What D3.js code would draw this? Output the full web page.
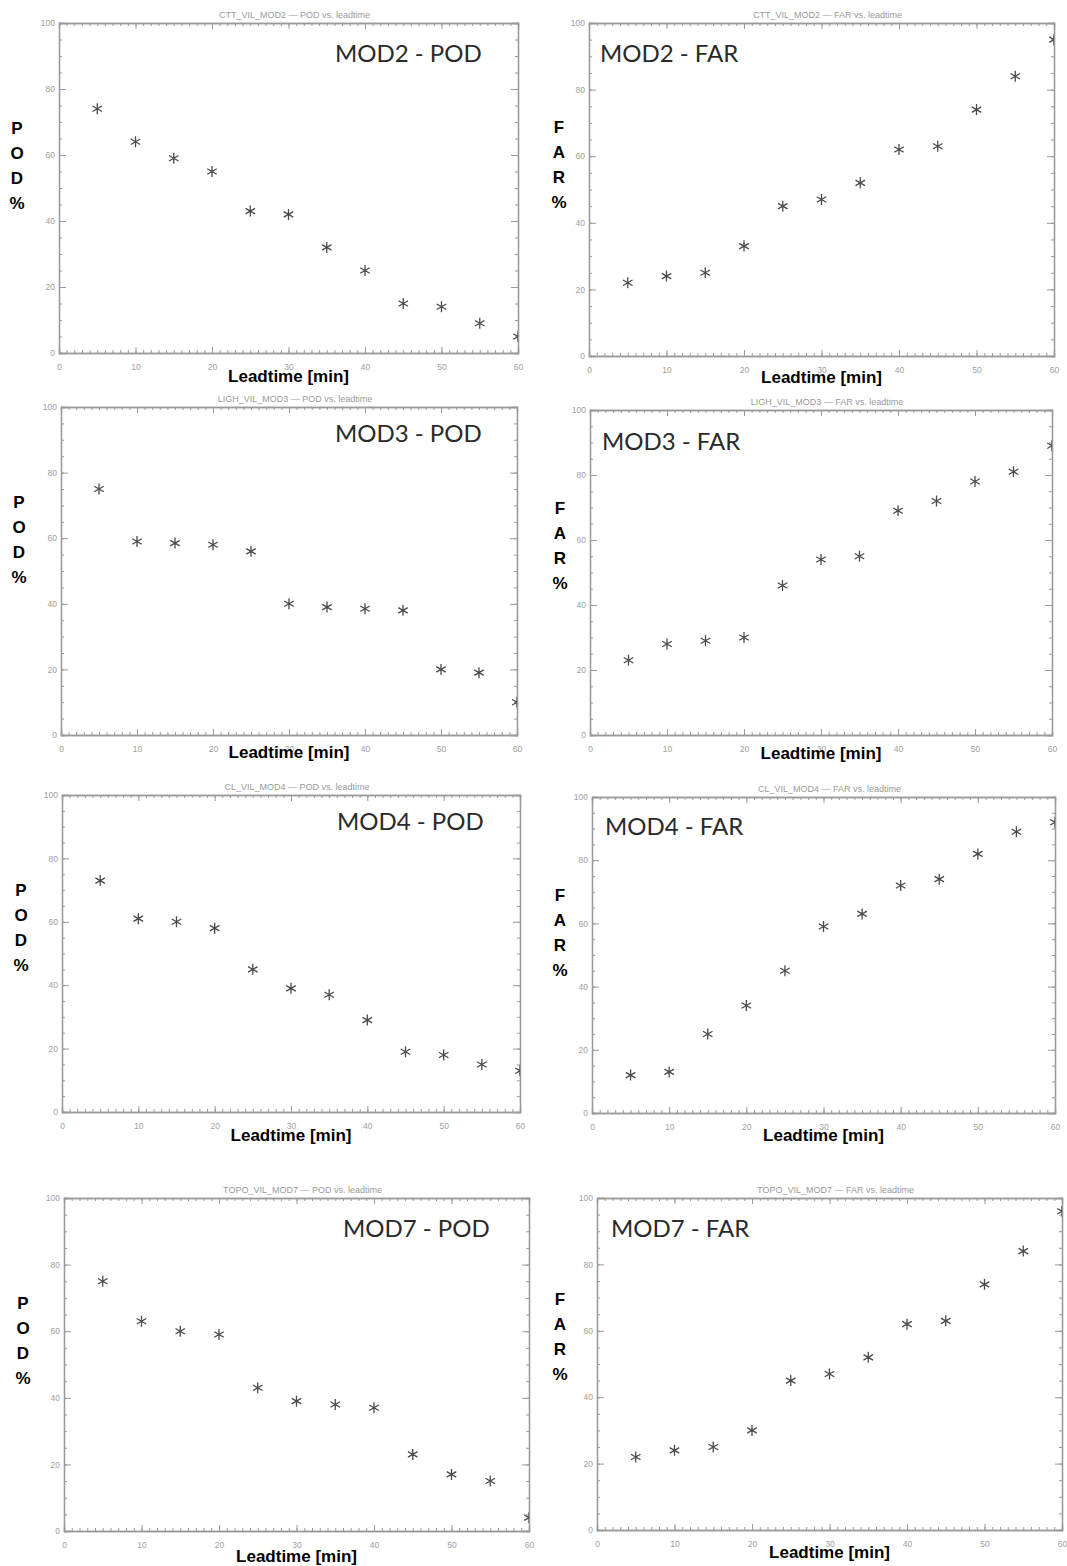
<!DOCTYPE html>
<html>
<head>
<meta charset="utf-8">
<script src="https://cdn.jsdelivr.net/npm/d3@7"></script>
<style>
  html, body { margin: 0; padding: 0; background: #fff; }
  svg { display: block; }
</style>
</head>
<body>
<svg id="chart" width="1067" height="1566"></svg>
<script>
// ---------- DATA ----------
const leadtimes = [5, 10, 15, 20, 25, 30, 35, 40, 45, 50, 55, 60];
const xTicks = [0, 10, 20, 30, 40, 50, 60];
const yTicks = [0, 20, 40, 60, 80, 100];

const pod2 = [74, 64, 59, 55, 43, 42, 32, 25, 15, 14, 9, 5];
const far2 = [22, 24, 25, 33, 45, 47, 52, 62, 63, 74, 84, 95];
const pod3 = [75, 59, 58.5, 58, 56, 40, 39, 38.5, 38, 20, 19, 10];
const far3 = [23, 28, 29, 30, 46, 54, 55, 69, 72, 78, 81, 89];
const pod4 = [73, 61, 60, 58, 45, 39, 37, 29, 19, 18, 15, 13];
const far4 = [12, 13, 25, 34, 45, 59, 63, 72, 74, 82, 89, 92];
const pod7 = [75, 63, 60, 59, 43, 39, 38, 37, 23, 17, 15, 4];
const far7 = [22, 24, 25, 30, 45, 47, 52, 62, 63, 74, 84, 96];

const plotTitles = [
  "CTT_VIL_MOD2 \u2014 POD vs. leadtime", "CTT_VIL_MOD2 \u2014 FAR vs. leadtime",
  "LIGH_VIL_MOD3 \u2014 POD vs. leadtime", "LIGH_VIL_MOD3 \u2014 FAR vs. leadtime",
  "CL_VIL_MOD4 \u2014 POD vs. leadtime", "CL_VIL_MOD4 \u2014 FAR vs. leadtime",
  "TOPO_VIL_MOD7 \u2014 POD vs. leadtime", "TOPO_VIL_MOD7 \u2014 FAR vs. leadtime"
];
const panelLabels = ["MOD2 - POD", "MOD2 - FAR", "MOD3 - POD", "MOD3 - FAR",
                     "MOD4 - POD", "MOD4 - FAR", "MOD7 - POD", "MOD7 - FAR"];
const yLetters = [["P", "O", "D", "%"], ["F", "A", "R", "%"]];
const xAxisTitle = "Leadtime [min]";
const series = [pod2, far2, pod3, far3, pod4, far4, pod7, far7];

// ---------- LAYOUT ----------
const frames = [
  {x0: 59,  x1: 518,  y0: 23,   y1: 353,  lab: {x: 335, y: 62},   yl: {x: 17, y: 128},  xl: 382},
  {x0: 589, x1: 1054, y0: 23,   y1: 356,  lab: {x: 600, y: 62},   yl: {x: 559, y: 127}, xl: 383},
  {x0: 61,  x1: 517,  y0: 407,  y1: 735,  lab: {x: 335, y: 442},  yl: {x: 19, y: 502},  xl: 758},
  {x0: 590, x1: 1052, y0: 410,  y1: 735,  lab: {x: 602, y: 450},  yl: {x: 560, y: 508}, xl: 759},
  {x0: 62,  x1: 520,  y0: 795,  y1: 1112, lab: {x: 337, y: 830},  yl: {x: 21, y: 890},  xl: 1141},
  {x0: 592, x1: 1055, y0: 797,  y1: 1113, lab: {x: 605, y: 835},  yl: {x: 560, y: 895}, xl: 1141},
  {x0: 64,  x1: 529,  y0: 1198, y1: 1531, lab: {x: 343, y: 1237}, yl: {x: 23, y: 1303}, xl: 1562},
  {x0: 597, x1: 1062, y0: 1198, y1: 1530, lab: {x: 611, y: 1237}, yl: {x: 560, y: 1299}, xl: 1558}
];

const svg = d3.select("#chart");
const frameColor = "#9a9a9a";
const tickText = "#a0a0a0";
const markerColor = "#4a4a4a";

const star = d3.symbolAsterisk ? d3.symbol().type(d3.symbolAsterisk).size(85) : null;

frames.forEach((f, i) => {
  const g = svg.append("g");
  const x = d3.scaleLinear().domain([0, 60]).range([f.x0, f.x1]);
  const y = d3.scaleLinear().domain([0, 100]).range([f.y1, f.y0]);
  const W = f.x1 - f.x0, H = f.y1 - f.y0;

  const cid = "clip" + i;
  svg.append("clipPath").attr("id", cid).append("rect")
    .attr("x", f.x0).attr("y", f.y0).attr("width", W).attr("height", H);

  // bottom axis
  const gB = g.append("g").attr("transform", `translate(0,${f.y1})`)
    .call(d3.axisBottom(x).tickValues(xTicks).tickSize(-6).tickPadding(14).tickFormat(d3.format("d")));
  g.append("g").attr("transform", `translate(0,${f.y1})`).call(d3.axisBottom(x).ticks(60).tickSize(-3).tickFormat(""));
  // top axis
  g.append("g").attr("transform", `translate(0,${f.y0})`).call(d3.axisTop(x).tickValues(xTicks).tickSize(-6).tickFormat(""));
  g.append("g").attr("transform", `translate(0,${f.y0})`).call(d3.axisTop(x).ticks(60).tickSize(-3).tickFormat(""));
  // left axis
  g.append("g").attr("transform", `translate(${f.x0},0)`).call(d3.axisLeft(y).tickValues(yTicks).tickSize(-7).tickPadding(4).tickFormat(d3.format("d")));
  g.append("g").attr("transform", `translate(${f.x0},0)`).call(d3.axisLeft(y).ticks(20).tickSize(-3).tickFormat(""));
  // right axis
  g.append("g").attr("transform", `translate(${f.x1},0)`).call(d3.axisRight(y).tickValues(yTicks).tickSize(-7).tickFormat(""));
  g.append("g").attr("transform", `translate(${f.x1},0)`).call(d3.axisRight(y).ticks(20).tickSize(-3).tickFormat(""));

  g.selectAll(".domain").attr("stroke", frameColor).attr("stroke-width", 1.3);
  g.selectAll(".tick line").attr("stroke", frameColor).attr("stroke-width", 1);
  g.selectAll(".tick text").attr("fill", tickText).attr("font-family", "Liberation Sans, Arial, sans-serif").attr("font-size", 8.5);
  gB.selectAll(".tick text").attr("dy", "0.3em");

  // plot title
  g.append("text")
    .attr("x", (f.x0 + f.x1) / 2 + 6).attr("y", f.y0 - 5)
    .attr("text-anchor", "middle")
    .attr("font-family", "Liberation Sans, Arial, sans-serif")
    .attr("font-size", 9).attr("fill", "#9a9a9a")
    .text(plotTitles[i]);

  // markers
  const pts = g.append("g").attr("clip-path", `url(#${cid})`);
  pts.selectAll("path").data(series[i].map((v, k) => [leadtimes[k], v])).enter()
    .append("path")
    .attr("transform", d => `translate(${x(d[0])},${y(d[1])})`)
    .attr("d", star ? star() : "M0,-5V5M-5,0H5M-3.5,-3.5L3.5,3.5M-3.5,3.5L3.5,-3.5")
    .attr("fill", "none").attr("stroke", markerColor).attr("stroke-width", 1.3);

  // big label
  g.append("text")
    .attr("x", f.lab.x).attr("y", f.lab.y)
    .attr("font-family", "Lato, 'Open Sans', sans-serif")
    .attr("font-size", 24).attr("fill", "#2a2a2a")
    .text(panelLabels[i]);

  // x axis title
  g.append("text")
    .attr("x", (f.x0 + f.x1) / 2).attr("y", f.xl)
    .attr("text-anchor", "middle")
    .attr("font-family", "Liberation Sans, Arial, sans-serif")
    .attr("font-weight", "bold").attr("font-size", 17).attr("fill", "#000")
    .text(xAxisTitle);

  // y axis title (stacked letters)
  const yt = g.append("text")
    .attr("font-family", "Liberation Sans, Arial, sans-serif")
    .attr("font-weight", "bold").attr("font-size", 17).attr("fill", "#000")
    .attr("text-anchor", "middle");
  yLetters[i % 2].forEach((c, k) => {
    yt.append("tspan").attr("x", f.yl.x).attr("y", f.yl.y + 6 + k * 25).text(c);
  });
});
</script>
</body>
</html>
